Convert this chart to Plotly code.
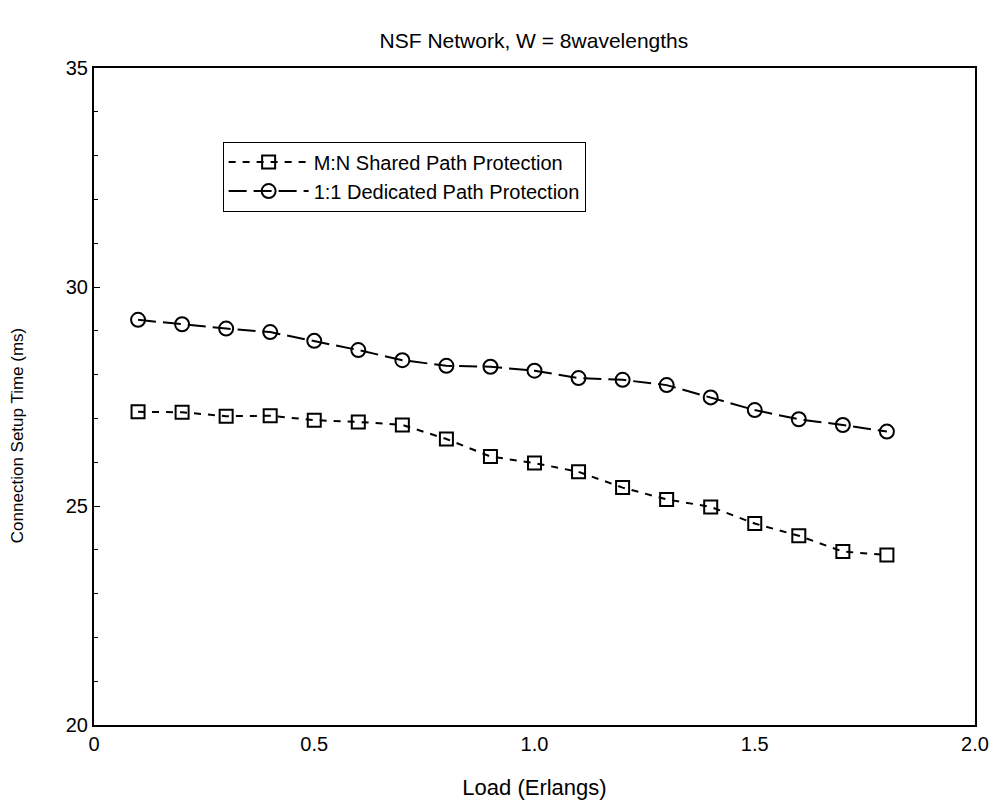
import plotly.graph_objects as go

# Offered load (Erlangs)
load = [0.1, 0.2, 0.3, 0.4, 0.5, 0.6, 0.7, 0.8, 0.9, 1.0,
        1.1, 1.2, 1.3, 1.4, 1.5, 1.6, 1.7, 1.8]

# Connection setup time (ms) per protection scheme
shared_mn = [27.15, 27.14, 27.05, 27.06, 26.96, 26.92, 26.85, 26.53, 26.13, 25.98,
             25.78, 25.42, 25.15, 24.98, 24.60, 24.32, 23.96, 23.88]
dedicated_11 = [29.25, 29.15, 29.05, 28.97, 28.77, 28.56, 28.33, 28.20, 28.18, 28.09,
                27.92, 27.88, 27.76, 27.48, 27.19, 26.98, 26.85, 26.70]

x_ticks = [0, 0.5, 1.0, 1.5, 2.0]
x_tick_text = ["0", "0.5", "1.0", "1.5", "2.0"]
y_ticks = [20, 25, 30, 35]

FONT = "Liberation Sans, Arial, sans-serif"

fig = go.Figure()
fig.add_trace(go.Scatter(
    x=load, y=shared_mn, mode="lines+markers",
    name="M:N Shared Path Protection",
    line=dict(color="black", width=2, dash="7px,7px"),
    marker=dict(symbol="square-open", size=13, color="black", line=dict(width=2)),
))
fig.add_trace(go.Scatter(
    x=load, y=dedicated_11, mode="lines+markers",
    name="1:1 Dedicated Path Protection",
    line=dict(color="black", width=2, dash="18px,7px"),
    marker=dict(symbol="circle-open", size=14, color="black", line=dict(width=2)),
))

fig.update_layout(
    width=998, height=803,
    margin=dict(l=94, r=23, t=68, b=78),
    paper_bgcolor="white", plot_bgcolor="white",
    font=dict(family=FONT, color="black"),
    showlegend=True,
    title=dict(text="NSF Network, W = 8wavelengths", x=0.535, xanchor="center",
               y=0.95, yanchor="middle", font=dict(size=21, family=FONT)),
    legend=dict(x=0.146, y=0.888, xanchor="left", yanchor="top",
                bordercolor="black", borderwidth=1, bgcolor="white",
                font=dict(size=20, family=FONT), itemwidth=80,
                tracegroupgap=0),
    annotations=[dict(
        text="Connection Setup Time (ms)", textangle=-90,
        xref="paper", yref="paper", x=-0.086, y=0.44,
        xanchor="center", yanchor="middle", showarrow=False,
        font=dict(size=17, family=FONT),
    )],
)

fig.update_xaxes(
    range=[0, 2.0], tickvals=x_ticks, ticktext=x_tick_text,
    showline=True, linecolor="black", linewidth=2, mirror=True,
    showgrid=False, zeroline=False, ticks="", automargin=False,
    tickfont=dict(size=20, family=FONT),
    title=dict(text="Load (Erlangs)", font=dict(size=22, family=FONT), standoff=26),
)
fig.update_yaxes(
    range=[20, 35], tickvals=y_ticks, automargin=False,
    showline=True, linecolor="black", linewidth=2, mirror=True,
    showgrid=False, zeroline=False, ticks="inside", ticklen=6, tickcolor="black",
    minor=dict(dtick=1, ticks="inside", ticklen=4, tickcolor="black", showgrid=False),
    tickfont=dict(size=20, family=FONT),
)

fig.write_html("out.html")
